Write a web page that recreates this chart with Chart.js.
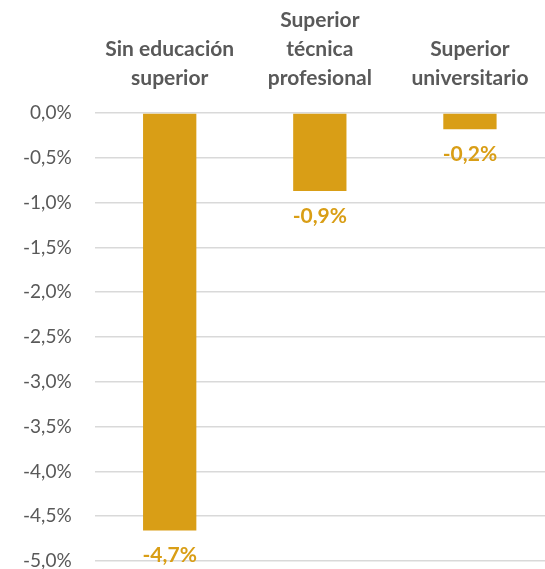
<!DOCTYPE html>
<html>
<head>
<meta charset="utf-8">
<script src="https://cdn.jsdelivr.net/npm/chart.js@4.4.0/dist/chart.umd.min.js"></script>
<style>
  html, body { margin: 0; padding: 0; background: #fff; overflow: hidden; }
</style>
</head>
<body>
<canvas id="chart" width="545" height="569"></canvas>
<script>
// categorías y valores (variación %)
const categorias = [
  ['Sin educación', 'superior'],
  ['Superior', 'técnica', 'profesional'],
  ['Superior', 'universitario']
];
const valores = [-4.66, -0.87, -0.18];

const dorado = '#D99E16';
const gris = '#595959';

function fmt(v) {
  return v.toFixed(1).replace('.', ',') + '%';
}

// etiquetas de datos debajo de cada barra
const etiquetas = {
  id: 'etiquetas',
  afterDatasetsDraw(chart) {
    const ctx = chart.ctx;
    const meta = chart.getDatasetMeta(0);
    ctx.save();
    ctx.font = 'bold 21px Lato';
    ctx.fillStyle = dorado;
    ctx.textAlign = 'center';
    ctx.textBaseline = 'middle';
    meta.data.forEach((bar, i) => {
      ctx.fillText(fmt(valores[i]), bar.x, bar.y + 25);
    });
    ctx.restore();
  }
};

new Chart(document.getElementById('chart'), {
  type: 'bar',
  data: {
    labels: categorias,
    datasets: [{
      data: valores,
      backgroundColor: dorado,
      categoryPercentage: 1,
      barPercentage: 0.355
    }]
  },
  options: {
    responsive: false,
    animation: false,
    layout: { padding: 0 },
    plugins: {
      legend: { display: false },
      tooltip: { enabled: false }
    },
    scales: {
      x: {
        position: 'top',
        grid: { display: false },
        border: { display: false },
        afterFit: s => { s.height = 113; },
        ticks: {
          color: gris,
          font: { family: 'Lato', size: 21, weight: 'bold', lineHeight: 1.38 },
          padding: 12,
          maxRotation: 0
        }
      },
      y: {
        min: -5,
        max: 0,
        grid: { color: '#D9D9D9', lineWidth: 1.5, drawTicks: false },
        border: { display: false },
        afterFit: s => { s.paddingTop = 0; s.paddingBottom = 8; },
        ticks: {
          stepSize: 0.5,
          color: gris,
          font: { family: 'Lato', size: 19 },
          padding: 23,
          callback: v => fmt(v)
        }
      }
    }
  },
  plugins: [etiquetas]
});
</script>
</body>
</html>
